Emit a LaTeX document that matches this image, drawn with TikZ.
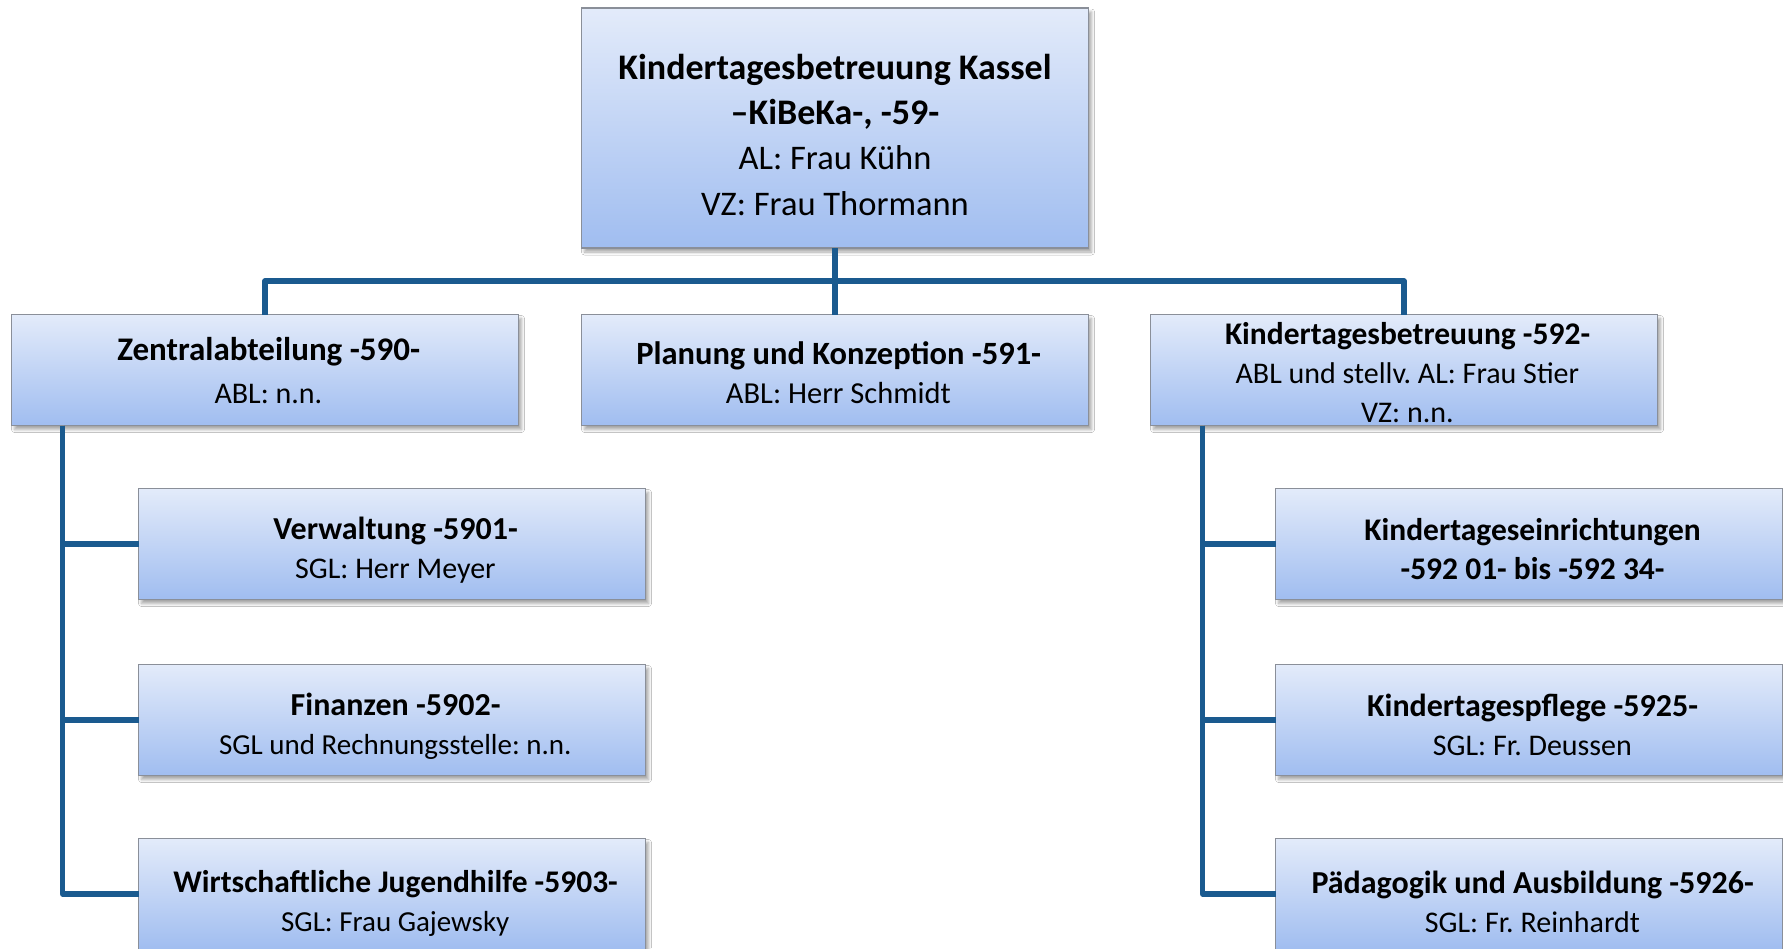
\documentclass[tikz,border=0pt]{standalone}
\usepackage{fontspec}
\setmainfont{Carlito}
\usetikzlibrary{shadows.blur}
\definecolor{linec}{HTML}{1A5A8F}
\definecolor{boxtop}{HTML}{E3EBFA}
\definecolor{boxbot}{HTML}{A0BDF0}
\definecolor{boxframe}{HTML}{8A8F99}
\newcommand{\bsz}[1]{\fontsize{#1}{39}\selectfont\bfseries}
\newcommand{\rsz}[1]{\fontsize{#1}{39}\selectfont\mdseries}
\tikzset{
  orgbox/.style={draw=boxframe, line width=1.2pt, top color=boxtop, bottom color=boxbot,
    inner sep=0pt, outer sep=0pt,
    blur shadow={shadow xshift=3pt, shadow yshift=-4pt, shadow blur steps=6, shadow blur radius=3pt, shadow opacity=35}},
  boxtext/.style={align=center, text=black, inner sep=0pt, font=\fontsize{31}{39}\selectfont},
  wide/.style={minimum width=507pt},
  tall/.style={minimum height=111pt},
  conn/.style={draw=linec, line width=5.2pt, line join=round, line cap=butt},
}
\begin{document}
\frenchspacing
\begin{tikzpicture}[x=1pt,y=-1pt]
\useasboundingbox[fill=white] (0,0) rectangle (1783,948);
% boxes
\node[orgbox, wide, minimum height=240pt] (top) at (835,128) {};
\node[orgbox, wide, tall] (zentral) at (265,370) {};
\node[orgbox, wide, tall] (planung) at (835,370) {};
\node[orgbox, wide, tall] (kita) at (1404,370) {};
\node[orgbox, wide, tall] (verw) at (392,544) {};
\node[orgbox, wide, tall] (fin) at (392,720) {};
\node[orgbox, wide, tall] (wirt) at (392,894) {};
\node[orgbox, wide, tall] (einr) at (1529,544) {};
\node[orgbox, wide, tall] (pflege) at (1529,720) {};
\node[orgbox, wide, tall] (paed) at (1529,894) {};
% texts
\node[boxtext, font=\fontsize{36}{45}\selectfont] (top-t) at ([yshift=-7pt]top.center)
  {{\bfseries Kindertagesbetreuung Kassel}\\{\bfseries –KiBeKa-, -59-}\\{\fontsize{34.5}{45}\selectfont AL: Frau Kühn}\\{\fontsize{34.5}{45}\selectfont VZ: Frau Thormann}};
\node[boxtext, font=\fontsize{31}{43}\selectfont] (zentral-t) at ([yshift=-1pt]zentral.center)
  {{\bsz{33} Zentralabteilung -590-}\\{\rsz{30} ABL: n.n.}};
\node[boxtext] (planung-t) at ([yshift=-3pt]planung.center)
  {{\bsz{32.5} Planung und Konzeption -591-}\\{\rsz{30.5} ABL: Herr Schmidt}};
\node[boxtext] (kita-t) at ([yshift=-3pt]kita.center)
  {{\bsz{31.5} Kindertagesbetreuung -592-}\\{\rsz{30} ABL und stellv. AL: Frau Stier}\\{\rsz{30} VZ: n.n.}};
\node[boxtext] (verw-t) at ([yshift=-6pt]verw.center)
  {{\bsz{32} Verwaltung -5901-}\\{\rsz{30} SGL: Herr Meyer}};
\node[boxtext] (fin-t) at ([yshift=-6pt]fin.center)
  {{\bsz{32} Finanzen -5902-}\\{\rsz{29} SGL und Rechnungsstelle: n.n.}};
\node[boxtext] (wirt-t) at ([yshift=-9pt]wirt.center)
  {{\bsz{31.5} Wirtschaftliche Jugendhilfe -5903-}\\{\rsz{29} SGL: Frau Gajewsky}};
\node[boxtext] (einr-t) at ([yshift=-5pt]einr.center)
  {{\bsz{31.5} Kindertageseinrichtungen}\\{\bsz{31.5} -592 01- bis -592 34-}};
\node[boxtext] (pflege-t) at ([yshift=-5pt]pflege.center)
  {{\bsz{32} Kindertagespflege -5925-}\\{\rsz{30} SGL: Fr. Deussen}};
\node[boxtext] (paed-t) at ([yshift=-8pt]paed.center)
  {{\bsz{32} Pädagogik und Ausbildung -5926-}\\{\rsz{30} SGL: Fr. Reinhardt}};
% connectors
\coordinate (bus) at (top.south |- 0,281);
\draw[conn] (top.south) -- (planung.north);
\draw[conn] (zentral.north) |- (bus) -| (kita.north);
\draw[conn] ([xshift=51pt]zentral.south west) |- (verw.west);
\draw[conn] ([xshift=51pt]zentral.south west) |- (fin.west);
\draw[conn] ([xshift=51pt]zentral.south west) |- (wirt.west);
\draw[conn] ([xshift=52pt]kita.south west) |- (einr.west);
\draw[conn] ([xshift=52pt]kita.south west) |- (pflege.west);
\draw[conn] ([xshift=52pt]kita.south west) |- (paed.west);
\end{tikzpicture}
\end{document}
